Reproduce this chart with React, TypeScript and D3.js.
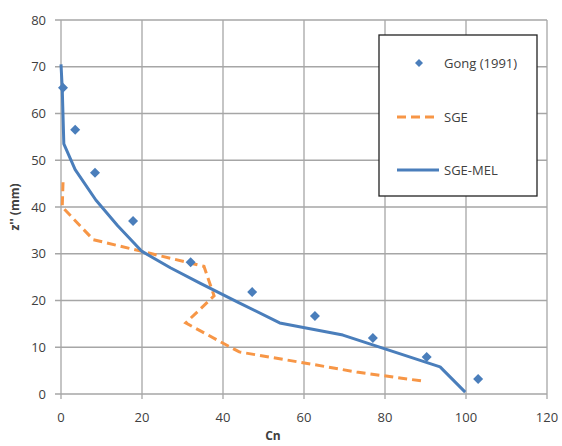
import React from "react";
import * as d3 from "d3";

// Gong (1991) measurements: [Cn, z'' (mm)]
const gongData: [number, number][] = [
  [0.5, 65.5],
  [3.5, 56.5],
  [8.4, 47.3],
  [17.8, 37],
  [32, 28.2],
  [47.2, 21.8],
  [62.7, 16.7],
  [77, 12],
  [90.3, 7.9],
  [103, 3.2],
];

// SGE prediction (dashed)
const sgeData: [number, number][] = [
  [0.5, 45.3],
  [0.3, 40],
  [8, 33],
  [20, 30.5],
  [35.3, 27.3],
  [37.8, 21],
  [30.8, 15.2],
  [44, 9],
  [59, 6.8],
  [73, 4.7],
  [89, 2.8],
];

// SGE-MEL prediction (solid)
const sgeMelData: [number, number][] = [
  [0, 70.5],
  [0.3, 65.5],
  [0.7, 53.5],
  [3.5, 48],
  [8.6, 41.5],
  [14, 36],
  [20, 30.5],
  [27, 27],
  [34.3, 23.7],
  [44, 19.5],
  [54, 15.2],
  [69.6, 12.6],
  [93.6, 5.8],
  [99.8, 0.4],
];

const xTicks = [0, 20, 40, 60, 80, 100, 120];
const yTicks = [0, 10, 20, 30, 40, 50, 60, 70, 80];

const BLUE = "#4a7ebb";
const ORANGE = "#f79646";
const GRID = "#a6a6a6";
const TEXT = "#404040";
const FONT = "'Open Sans', 'Liberation Sans', sans-serif";

const App = () => {
  const width = 562;
  const height = 446;

  const x = d3.scaleLinear().domain([0, 120]).range([61, 547]);
  const y = d3.scaleLinear().domain([0, 80]).range([394, 20]);

  const line = d3
    .line<[number, number]>()
    .x((d) => x(d[0]))
    .y((d) => y(d[1]));

  const diamond = (cx: number, cy: number, r: number) =>
    `M${cx},${cy - r}L${cx + r},${cy}L${cx},${cy + r}L${cx - r},${cy}Z`;

  return (
    <svg
      width={width}
      height={height}
      style={{ position: "absolute", left: 0, top: 0, background: "#fff" }}
    >
      {/* grid */}
      {xTicks.map((t) => (
        <line key={"gx" + t} x1={x(t)} x2={x(t)} y1={y(80)} y2={y(0) + 5} stroke={GRID} strokeWidth={1.3} />
      ))}
      {yTicks.map((t) => (
        <line key={"gy" + t} x1={x(0) - 6} x2={x(120)} y1={y(t)} y2={y(t)} stroke={GRID} strokeWidth={1.3} />
      ))}

      {/* tick labels */}
      {xTicks.map((t) => (
        <text key={"lx" + t} x={x(t)} y={422} textAnchor="middle" fontSize={13} fill={TEXT} fontFamily={FONT}>
          {t}
        </text>
      ))}
      {yTicks.map((t) => (
        <text key={"ly" + t} x={46} y={y(t)} dy="0.35em" textAnchor="end" fontSize={13} fill={TEXT} fontFamily={FONT}>
          {t}
        </text>
      ))}

      {/* axis titles */}
      <text x={273} y={440} textAnchor="middle" fontSize={12} fontWeight="bold" fill={TEXT} fontFamily={FONT}>
        Cn
      </text>
      <text
        transform={`translate(19, 207) rotate(-90)`}
        textAnchor="middle"
        fontSize={12}
        fontWeight="bold"
        fill={TEXT}
        fontFamily={FONT}
      >
        z'' (mm)
      </text>

      {/* series */}
      <path d={line(sgeData) ?? ""} fill="none" stroke={ORANGE} strokeWidth={3} strokeDasharray="9,5" />
      <path d={line(sgeMelData) ?? ""} fill="none" stroke={BLUE} strokeWidth={3} strokeLinejoin="round" />
      {gongData.map((d, i) => (
        <path key={i} d={diamond(x(d[0]), y(d[1]), 5)} fill={BLUE} />
      ))}

      {/* legend */}
      <rect x={379} y={35} width={158} height={161} fill="#fff" stroke="#222" strokeWidth={1.3} />
      <path d={diamond(419, 63, 4)} fill={BLUE} />
      <text x={444} y={63} dy="0.35em" fontSize={13} fill={TEXT} fontFamily={FONT}>
        Gong (1991)
      </text>
      <line x1={397} x2={436} y1={117} y2={117} stroke={ORANGE} strokeWidth={3} strokeDasharray="9,5" />
      <text x={444} y={117} dy="0.35em" fontSize={13} fill={TEXT} fontFamily={FONT}>
        SGE
      </text>
      <line x1={397} x2={439} y1={170} y2={170} stroke={BLUE} strokeWidth={3} />
      <text x={444} y={170} dy="0.35em" fontSize={13} fill={TEXT} fontFamily={FONT}>
        SGE-MEL
      </text>
    </svg>
  );
};

export default App;
